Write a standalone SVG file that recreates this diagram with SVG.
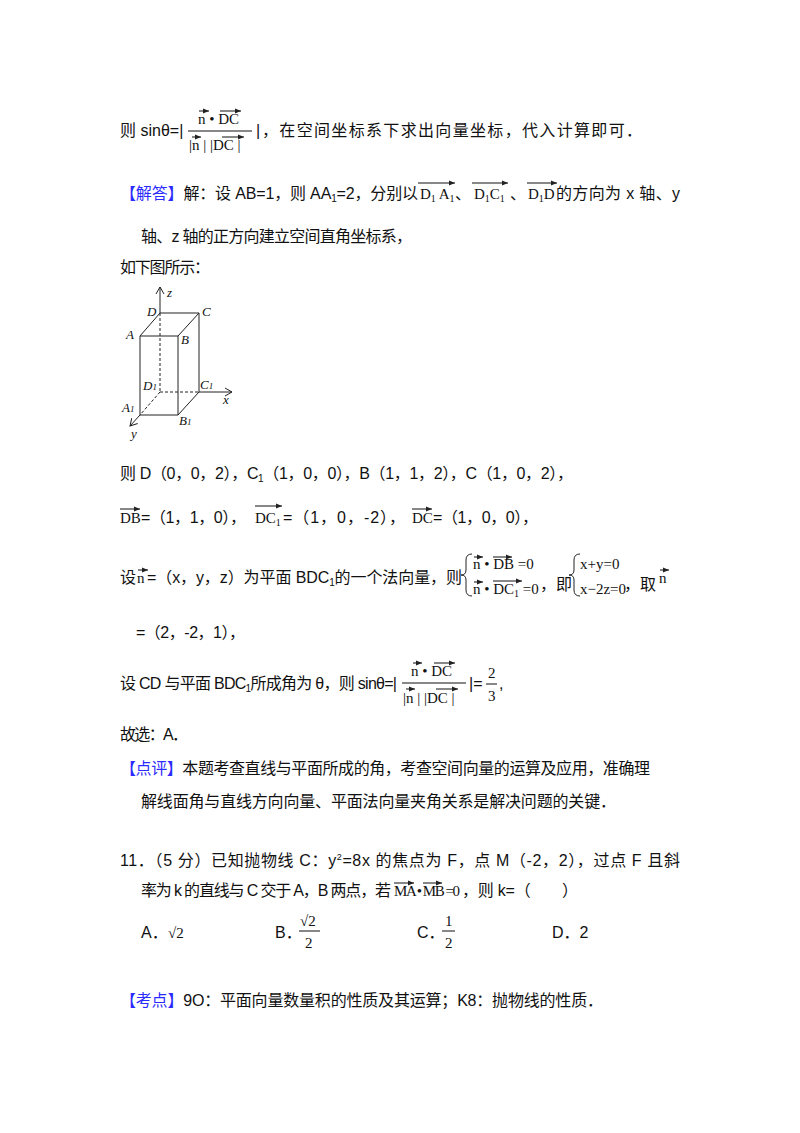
<svg xmlns="http://www.w3.org/2000/svg" width="800" height="1133" viewBox="0 0 800 1133">
<style>
text{font-family:"Liberation Sans","Noto Sans CJK SC",sans-serif;font-size:16px;fill:#111}
.m{font-family:"Liberation Serif","Noto Sans CJK SC",serif;font-size:15px}
.b{fill:#2b2bff}
.f{font-family:"Liberation Serif",serif;font-style:italic;font-size:13px}
.s{font-size:10px}
line,path{stroke:#222;stroke-width:1;fill:none}
.d{stroke-dasharray:3,2}
.v{stroke:#111;stroke-width:1}
</style>
<defs>
<marker id="ar" markerUnits="userSpaceOnUse" markerWidth="8" markerHeight="8" refX="6" refY="4" orient="auto"><path d="M0,1.5 L6,4 L0,6.5 Z" style="fill:#222;stroke:none"/></marker>
<marker id="ax" markerUnits="userSpaceOnUse" markerWidth="10" markerHeight="10" refX="7" refY="5" orient="auto"><path d="M0,1 L7,5 L0,9" style="stroke:#222"/></marker>
</defs>
<rect width="800" height="1133" fill="#fff"/>
<g id="text">
<text x="120" y="136">则 sinθ=|</text>
<text class="m" x="198" y="124">n • DC</text>
<line x1="188" y1="131" x2="252" y2="131" class="v"/>
<text class="m" x="189" y="150">|n | |DC |</text>
<text x="256" y="136">|</text>
<text x="262" y="136" textLength="380">，在空间坐标系下求出向量坐标，代入计算即可．</text>
<text x="120" y="199" textLength="298"><tspan class="b">【解答】</tspan>解：设 AB=1，则 AA<tspan class="s" dy="3">1</tspan><tspan dy="-3">=2，分别以</tspan></text>
<text class="m" x="420" y="199">D<tspan font-size="10" dy="3">1</tspan><tspan dy="-3"> A</tspan><tspan font-size="10" dy="3">1</tspan></text>
<text x="455" y="199">、</text>
<text class="m" x="474" y="199">D<tspan font-size="10" dy="3">1</tspan><tspan dy="-3">C</tspan><tspan font-size="10" dy="3">1</tspan></text>
<text x="510" y="199">、</text>
<text class="m" x="528" y="199">D<tspan font-size="10" dy="3">1</tspan><tspan dy="-3">D</tspan></text>
<text x="556" y="199" textLength="124">的方向为 x 轴、y</text>
<text x="141" y="242" textLength="271">轴、z 轴的正方向建立空间直角坐标系，</text>
<text x="120" y="273" textLength="90">如下图所示：</text>
<text x="120" y="479" textLength="453">则 D（0，0，2），C<tspan class="s" dy="3">1</tspan><tspan dy="-3">（1，0，0），B（1，1，2），C（1，0，2），</tspan></text>
<text class="m" x="120" y="523">DB</text>
<text x="141" y="523" textLength="105">=（1，1，0），</text>
<text class="m" x="255" y="523">DC<tspan font-size="10" dy="3">1</tspan></text>
<text x="283" y="523" textLength="122">=（1，0，-2），</text>
<text class="m" x="412" y="523">DC</text>
<text x="433" y="523" textLength="105">=（1，0，0），</text>
<text x="120" y="583">设</text>
<text class="m" x="137" y="583">n</text>
<text x="147" y="583" textLength="315">=（x，y，z）为平面 BDC<tspan class="s" dy="3">1</tspan><tspan dy="-3">的一个法向量，则</tspan></text>
<path d="M472,554 Q466,554 466,560 L466,570 Q466,575 461,575 Q466,575 466,580 L466,590 Q466,596 472,596"/>
<text class="m" x="473" y="569">n • DB =0</text>
<text class="m" x="473" y="594">n • DC<tspan font-size="10" dy="3">1</tspan><tspan dy="-3"> =0</tspan></text>
<text x="540" y="590">，即</text>
<path d="M580,554 Q574,554 574,560 L574,570 Q574,575 569,575 Q574,575 574,580 L574,590 Q574,596 580,596"/>
<text class="m" x="580" y="569">x+y=0</text>
<text class="m" x="580" y="594">x−2z=0</text>
<text x="624" y="590">，取</text>
<text class="m" x="659" y="583">n</text>
<text x="136" y="638" textLength="109">=（2，-2，1），</text>
<text x="120" y="689" textLength="277">设 CD 与平面 BDC<tspan class="s" dy="3">1</tspan><tspan dy="-3">所成角为 θ，则 sinθ=|</tspan></text>
<text class="m" x="411" y="676">n • DC</text>
<line x1="402" y1="683" x2="466" y2="683" class="v"/>
<text class="m" x="403" y="703">|n | |DC |</text>
<text x="469" y="689">|=</text>
<text class="m" x="488" y="678">2</text>
<line x1="486" y1="684" x2="497" y2="684" class="v"/>
<text class="m" x="488" y="701">3</text>
<text x="499" y="689">,</text>
<text x="120" y="740" textLength="68">故选：A．</text>
<text x="120" y="774" textLength="530"><tspan class="b">【点评】</tspan>本题考查直线与平面所成的角，考查空间向量的运算及应用，准确理</text>
<text x="141" y="807" textLength="475">解线面角与直线方向向量、平面法向量夹角关系是解决问题的关键．</text>
<text x="120" y="866" textLength="560">11．（5 分）已知抛物线 C：y<tspan font-size="9" dy="-6">2</tspan><tspan dy="6">=8x 的焦点为 F，点 M（-2，2），过点 F 且斜</tspan></text>
<text x="141" y="896" textLength="250">率为 k 的直线与 C 交于 A，B 两点，若</text>
<text class="m" x="394" y="896" font-size="14" textLength="66">MA • MB =0</text>
<text x="462" y="896" textLength="116">，则 k=（　　）</text>
<text x="141" y="938">A．</text>
<text class="m" x="168" y="938" font-size="16">√2</text>
<text x="275" y="938">B．</text>
<text class="m" x="300" y="926">√2</text>
<line x1="299" y1="931" x2="320" y2="931" class="v"/>
<text class="m" x="305" y="948">2</text>
<text x="417" y="938">C．</text>
<text class="m" x="445" y="926">1</text>
<line x1="442" y1="931" x2="455" y2="931" class="v"/>
<text class="m" x="445" y="948">2</text>
<text x="552" y="938">D．2</text>
<text x="120" y="1006" textLength="483"><tspan class="b">【考点】</tspan>9O：平面向量数量积的性质及其运算；K8：抛物线的性质．</text>
</g>
<g id="vec-arrows">
<line x1="199" y1="111" x2="209" y2="111" class="v" marker-end="url(#ar)"/>
<line x1="220" y1="111" x2="241" y2="111" class="v" marker-end="url(#ar)"/>
<line x1="192" y1="137" x2="201" y2="137" class="v" marker-end="url(#ar)"/>
<line x1="222" y1="137" x2="244" y2="137" class="v" marker-end="url(#ar)"/>
<line x1="418" y1="183" x2="455" y2="183" class="v" marker-end="url(#ar)"/>
<line x1="472" y1="183" x2="508" y2="183" class="v" marker-end="url(#ar)"/>
<line x1="527" y1="183" x2="557" y2="183" class="v" marker-end="url(#ar)"/>
<line x1="120" y1="509" x2="140" y2="509" class="v" marker-end="url(#ar)"/>
<line x1="255" y1="506" x2="282" y2="506" class="v" marker-end="url(#ar)"/>
<line x1="412" y1="509" x2="432" y2="509" class="v" marker-end="url(#ar)"/>
<line x1="138" y1="570" x2="148" y2="570" class="v" marker-end="url(#ar)"/>
<line x1="474" y1="557" x2="483" y2="557" class="v" marker-end="url(#ar)"/>
<line x1="493" y1="557" x2="512" y2="557" class="v" marker-end="url(#ar)"/>
<line x1="474" y1="582" x2="483" y2="582" class="v" marker-end="url(#ar)"/>
<line x1="493" y1="581" x2="522" y2="581" class="v" marker-end="url(#ar)"/>
<line x1="660" y1="570" x2="669" y2="570" class="v" marker-end="url(#ar)"/>
<line x1="413" y1="663" x2="422" y2="663" class="v" marker-end="url(#ar)"/>
<line x1="434" y1="663" x2="455" y2="663" class="v" marker-end="url(#ar)"/>
<line x1="406" y1="689" x2="415" y2="689" class="v" marker-end="url(#ar)"/>
<line x1="436" y1="689" x2="458" y2="689" class="v" marker-end="url(#ar)"/>
<line x1="394" y1="883" x2="414" y2="883" class="v" marker-end="url(#ar)"/>
<line x1="423" y1="883" x2="442" y2="883" class="v" marker-end="url(#ar)"/>
</g>
<g id="figure">
<line x1="160" y1="313" x2="160" y2="287" marker-end="url(#ax)"/>
<line x1="199" y1="392" x2="232" y2="392" marker-end="url(#ax)"/>
<line x1="140" y1="415" x2="130" y2="426" marker-end="url(#ax)"/>
<line x1="140" y1="336" x2="178" y2="336"/>
<line x1="140" y1="336" x2="160" y2="313"/>
<line x1="160" y1="313" x2="199" y2="313"/>
<line x1="178" y1="336" x2="199" y2="313"/>
<line x1="140" y1="336" x2="140" y2="415"/>
<line x1="178" y1="336" x2="178" y2="415"/>
<line x1="199" y1="313" x2="199" y2="392"/>
<line x1="140" y1="415" x2="178" y2="415"/>
<line x1="178" y1="415" x2="199" y2="392"/>
<line x1="160" y1="313" x2="160" y2="392" class="d"/>
<line x1="160" y1="392" x2="199" y2="392" class="d"/>
<line x1="160" y1="392" x2="140" y2="415" class="d"/>
<text class="f" x="167" y="297">z</text>
<text class="f" x="147" y="316">D</text>
<text class="f" x="202" y="316">C</text>
<text class="f" x="126" y="339">A</text>
<text class="f" x="181" y="344">B</text>
<text class="f" x="143" y="390">D<tspan font-size="9">1</tspan></text>
<text class="f" x="200" y="389">C<tspan font-size="9">1</tspan></text>
<text class="f" x="223" y="404">x</text>
<text class="f" x="122" y="412">A<tspan font-size="9">1</tspan></text>
<text class="f" x="179" y="425">B<tspan font-size="9">1</tspan></text>
<text class="f" x="131" y="438">y</text>
</g>
</svg>
